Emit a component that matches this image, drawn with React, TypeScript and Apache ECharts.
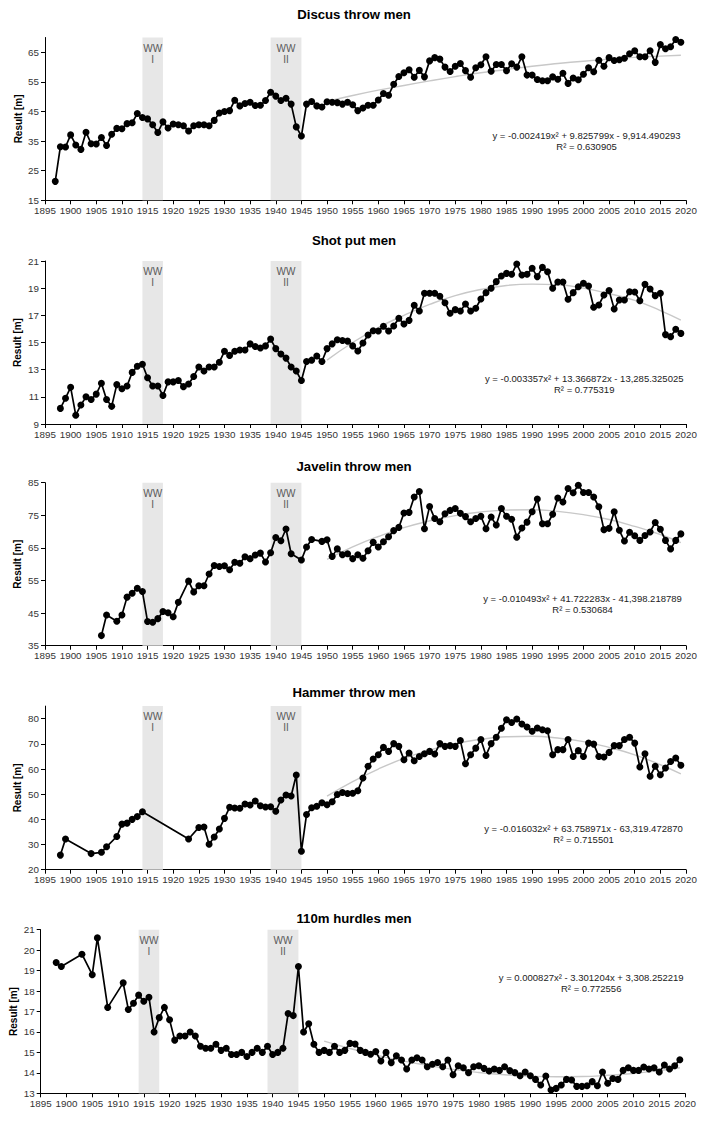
import React, { useEffect, useRef } from "react";
import * as echarts from "echarts";

// ---------- DATA ----------
const discusFirstYear = 1897;
const discusValues = [
  21.4, 33.1, 33.0, 37.1, 33.7, 32.2, 38.0, 34.1, 34.0, 36.2, 33.5, 37.3, 39.3, 39.2, 40.9, 41.2, 44.3,
  43.0, 42.5, 40.5, 37.9, 41.5, 39.4, 40.8, 40.5, 40.2, 38.4, 40.2, 40.5, 40.5, 40.2, 42.0, 44.5, 45.0,
  45.3, 48.8, 46.9, 47.7, 48.1, 47.0, 47.1, 48.7, 51.5, 50.2, 48.7, 49.5, 47.5, 39.8, 36.7, 47.5, 48.4,
  46.9, 46.5, 48.3, 48.1, 48.0, 47.5, 48.1, 47.3, 45.3, 46.2, 47.1, 47.1, 48.9, 51.1, 50.5, 54.2, 56.8,
  58.1, 59.1, 56.6, 58.9, 56.7, 62.1, 63.2, 62.7, 60.0, 58.5, 60.3, 61.2, 58.8, 56.6, 59.8, 60.8, 63.5,
  58.6, 60.9, 60.9, 58.8, 61.1, 60.0, 63.5, 57.3, 57.3, 55.8, 55.4, 55.4, 56.7, 55.9, 57.9, 54.5, 56.3,
  55.7, 57.6, 59.8, 58.4, 62.3, 60.3, 63.2, 62.2, 62.5, 63.0, 64.5, 65.5, 63.5, 63.5, 65.5, 61.6, 67.6,
  66.2, 66.9, 69.3, 68.4,
];

const shotFirstYear = 1898;
const shotValues = [
  10.15, 10.9, 11.7, 9.65, 10.4, 11.0, 10.8, 11.2, 12.0, 10.8, 10.3, 11.9, 11.6, 11.8, 12.8, 13.25, 13.4,
  12.4, 11.8, 11.8, 11.1, 12.1, 12.1, 12.2, 11.75, 11.95, 12.5, 13.2, 12.9, 13.2, 13.2, 13.55, 14.35,
  14.05, 14.35, 14.45, 14.45, 14.9, 14.7, 14.6, 14.75, 15.25, 14.55, 14.15, 13.85, 13.2, 12.9, 12.2,
  13.6, 13.7, 14.0, 13.6, 14.55, 14.9, 15.2, 15.15, 15.1, 14.75, 14.37, 14.96, 15.55, 15.87, 15.85,
  16.19, 15.85, 16.21, 16.78, 16.36, 16.63, 17.74, 17.32, 18.62, 18.62, 18.62, 18.4, 17.93, 17.15,
  17.42, 17.32, 17.83, 17.32, 17.52, 18.2, 18.67, 18.99, 19.48, 19.9, 20.09, 20.02, 20.78, 19.97, 20.02,
  20.46, 19.85, 20.53, 20.21, 18.99, 19.45, 19.45, 18.18, 18.67, 19.11, 19.36, 19.16, 17.59, 17.76,
  18.5, 18.82, 17.47, 18.13, 18.13, 18.74, 18.72, 18.08, 19.28, 18.94, 18.45, 18.62, 15.58, 15.43,
  15.97, 15.67,
];

const javelinYears = [
  1906, 1907, 1909, 1910, 1911, 1912, 1913, 1914, 1915, 1916, 1917, 1918, 1919, 1920, 1921, 1923, 1924,
  1925, 1926, 1927, 1928, 1929, 1930, 1931, 1932, 1933, 1934, 1935, 1936, 1937, 1938, 1939, 1940, 1941,
  1942, 1943, 1945, 1946, 1947, 1949, 1950, 1951, 1952, 1953, 1954, 1955, 1956, 1957, 1958, 1959, 1960,
  1961, 1962, 1963, 1964, 1965, 1966, 1967, 1968, 1969, 1970, 1971, 1972, 1973, 1974, 1975, 1976, 1977,
  1978, 1979, 1980, 1981, 1982, 1983, 1984, 1985, 1986, 1987, 1988, 1989, 1990, 1991, 1992, 1993, 1994,
  1995, 1996, 1997, 1998, 1999, 2000, 2001, 2002, 2003, 2004, 2005, 2006, 2007, 2008, 2009, 2010, 2011,
  2012, 2013, 2014, 2015, 2016, 2017, 2018, 2019,
];
const javelinValues = [
  38.1, 44.4, 42.5, 44.4, 49.9, 51.1, 52.6, 51.6, 42.4, 42.2, 43.3, 45.5, 45.1, 43.9, 48.3, 54.8, 51.5,
  53.4, 53.4, 57.0, 59.6, 59.3, 59.5, 58.3, 60.6, 60.3, 62.3, 61.7, 62.8, 63.4, 60.7, 63.5, 68.2, 67.2,
  70.8, 63.2, 61.3, 65.3, 67.6, 67.0, 67.5, 62.4, 64.7, 62.9, 63.2, 61.7, 62.9, 61.8, 64.1, 66.7, 65.3,
  66.9, 68.4, 70.3, 71.3, 75.7, 75.9, 80.6, 82.3, 70.9, 77.7, 74.0, 73.0, 75.5, 76.5, 77.1, 75.6, 74.6,
  73.0, 74.0, 74.7, 70.9, 74.5, 72.0, 77.1, 74.7, 73.8, 68.3, 71.1, 72.9, 76.1, 80.0, 72.4, 72.4, 75.3,
  80.3, 79.1, 83.2, 81.9, 84.2, 82.0, 82.0, 80.6, 77.6, 70.6, 71.0, 76.1, 70.4, 67.1, 69.8, 68.7, 67.3,
  68.8, 69.9, 72.8, 70.7, 67.3, 64.7, 67.3, 69.3,
];

const hammerYears = [
  1898, 1899, 1904, 1906, 1907, 1909, 1910, 1911, 1912, 1913, 1914, 1923, 1925, 1926, 1927, 1928, 1929,
  1930, 1931, 1932, 1933, 1934, 1935, 1936, 1937, 1938, 1939, 1940, 1941, 1942, 1943, 1944, 1945, 1946,
  1947, 1948, 1949, 1950, 1951, 1952, 1953, 1954, 1955, 1956, 1957, 1958, 1959, 1960, 1961, 1962, 1963,
  1964, 1965, 1966, 1967, 1968, 1969, 1970, 1971, 1972, 1973, 1974, 1975, 1976, 1977, 1978, 1979, 1980,
  1981, 1982, 1983, 1984, 1985, 1986, 1987, 1988, 1989, 1990, 1991, 1992, 1993, 1994, 1995, 1996, 1997,
  1998, 1999, 2000, 2001, 2002, 2003, 2004, 2005, 2006, 2007, 2008, 2009, 2010, 2011, 2012, 2013, 2014,
  2015, 2016, 2017, 2018, 2019,
];
const hammerValues = [
  25.8, 32.2, 26.4, 26.9, 29.1, 33.2, 38.1, 38.5, 40.0, 41.1, 43.0, 32.2, 36.8, 37.0, 30.1, 33.0, 36.2,
  40.4, 44.8, 44.5, 44.4, 46.1, 45.7, 47.3, 45.4, 44.9, 45.0, 43.2, 47.7, 49.7, 49.3, 57.6, 27.3, 41.9,
  44.6, 45.2, 46.6, 45.8, 47.0, 49.9, 50.7, 50.3, 50.4, 51.4, 56.4, 61.1, 64.0, 65.7, 68.6, 67.0, 70.1,
  69.0, 63.7, 66.4, 63.3, 65.0, 66.1, 67.0, 66.0, 70.1, 69.0, 69.3, 69.0, 71.3, 62.1, 65.7, 68.3, 71.7,
  65.4, 70.1, 72.6, 76.2, 79.6, 78.5, 79.9, 77.9, 76.7, 75.0, 76.3, 75.6, 75.2, 65.7, 67.7, 67.7, 71.7,
  65.0, 67.3, 65.0, 70.3, 69.9, 65.0, 64.8, 66.6, 69.3, 69.3, 71.7, 72.6, 70.3, 60.8, 66.1, 57.1, 61.1,
  57.7, 60.4, 63.0, 64.4, 61.5,
];

const hurdlesYears = [
  1898, 1899, 1903, 1905, 1906, 1908, 1911, 1912, 1913, 1914, 1915, 1916, 1917, 1918, 1919, 1920, 1921,
  1922, 1923, 1924, 1925, 1926, 1927, 1928, 1929, 1930, 1931, 1932, 1933, 1934, 1935, 1936, 1937, 1938,
  1939, 1940, 1941, 1942, 1943, 1944, 1945, 1946, 1947, 1948, 1949, 1950, 1951, 1952, 1953, 1954, 1955,
  1956, 1957, 1958, 1959, 1960, 1961, 1962, 1963, 1964, 1965, 1966, 1967, 1968, 1969, 1970, 1971, 1972,
  1973, 1974, 1975, 1976, 1977, 1978, 1979, 1980, 1981, 1982, 1983, 1984, 1985, 1986, 1987, 1988, 1989,
  1990, 1991, 1992, 1993, 1994, 1995, 1996, 1997, 1998, 1999, 2000, 2001, 2002, 2003, 2004, 2005, 2006,
  2007, 2008, 2009, 2010, 2011, 2012, 2013, 2014, 2015, 2016, 2017, 2018, 2019,
];
const hurdlesValues = [
  19.4, 19.2, 19.8, 18.8, 20.6, 17.2, 18.4, 17.1, 17.4, 17.8, 17.5, 17.7, 16.0, 16.7, 17.2, 16.6, 15.6,
  15.8, 15.8, 16.0, 15.8, 15.3, 15.2, 15.2, 15.4, 15.1, 15.2, 14.9, 14.9, 15.0, 14.8, 15.0, 15.2, 15.0,
  15.3, 14.9, 15.0, 15.2, 16.9, 16.8, 19.2, 16.0, 16.4, 15.4, 15.0, 15.1, 15.0, 15.3, 15.0, 15.1, 15.44,
  15.41, 15.1, 15.0, 14.91, 15.04, 14.58, 15.0, 14.5, 14.84, 14.63, 14.19, 14.63, 14.74, 14.63, 14.3,
  14.42, 14.51, 14.3, 14.63, 13.91, 14.35, 14.25, 14.01, 14.3, 14.35, 14.22, 14.09, 14.19, 14.12, 14.3,
  14.11, 14.01, 13.86, 14.04, 13.86, 13.68, 13.41, 13.85, 13.16, 13.24, 13.41, 13.68, 13.65, 13.34,
  13.34, 13.37, 13.57, 13.37, 14.04, 13.49, 13.72, 13.68, 14.12, 14.25, 14.12, 14.12, 14.29, 14.19,
  14.25, 14.04, 14.38, 14.19, 14.35, 14.64,
];

// Polynomial trend lines
const trendYears = [1950, 1955, 1960, 1965, 1970, 1975, 1980, 1985, 1990, 1995, 2000, 2005, 2010, 2015, 2019];
const discusTrend = [48.4, 50.4, 52.2, 53.8, 55.35, 56.8, 58.1, 59.2, 60.3, 61.2, 62.0, 62.7, 63.3, 63.7, 64.0];
const shotTrend = [13.7, 15.0, 16.1, 17.0, 17.8, 18.45, 18.9, 19.2, 19.3, 19.25, 19.0, 18.6, 18.1, 17.35, 16.65];
const javelinTrend = [61.5, 65.3, 68.5, 71.2, 73.3, 74.9, 76.0, 76.6, 76.7, 76.2, 75.2, 73.7, 71.6, 69.1, 66.6];
const hammerTrend = [49.2, 55.0, 60.0, 64.2, 67.5, 70.1, 71.8, 72.8, 73.0, 72.3, 70.9, 68.6, 65.6, 61.7, 58.1];
const hurdlesTrend = [15.55, 15.19, 14.88, 14.6, 14.37, 14.17, 14.02, 13.91, 13.84, 13.81, 13.82, 13.88, 13.97, 14.11, 14.25];

const titles = ["Discus throw men", "Shot put men", "Javelin throw men", "Hammer throw men", "110m hurdles men"];
const equations = [
  ["y = -0.002419x\u00B2 + 9.825799x - 9,914.490293", "R\u00B2 = 0.630905"],
  ["y = -0.003357x\u00B2 + 13.366872x - 13,285.325025", "R\u00B2 = 0.775319"],
  ["y = -0.010493x\u00B2 + 41.722283x - 41,398.218789", "R\u00B2 = 0.530684"],
  ["y = -0.016032x\u00B2 + 63.758971x - 63,319.472870", "R\u00B2 = 0.715501"],
  ["y = 0.000827x\u00B2 - 3.301204x + 3,308.252219", "R\u00B2 = 0.772556"],
];
const yMins = [15, 9, 35, 20, 13];
const yMaxs = [70, 21, 85, 85, 21];
const yIntervals = [10, 2, 10, 10, 1];
const yTickLabels = [
  [15, 25, 35, 45, 55, 65],
  [9, 11, 13, 15, 17, 19, 21],
  [35, 45, 55, 65, 75, 85],
  [20, 30, 40, 50, 60, 70, 80],
  [13, 14, 15, 16, 17, 18, 19, 20, 21],
];
const warBands = [
  { label: "WW\nI", from: 1914, to: 1918 },
  { label: "WW\nII", from: 1939, to: 1945 },
];

// ---------- LAYOUT ----------
const FONT = "'Liberation Sans', Arial, Helvetica, sans-serif";
const grids = [
  { left: 45, top: 37.5, width: 641, height: 162.8 },
  { left: 45, top: 261, width: 641, height: 163 },
  { left: 45, top: 482.7, width: 641, height: 163 },
  { left: 45, top: 706.1, width: 641, height: 163.6 },
  { left: 40.7, top: 929.7, width: 644.3, height: 163.6 },
];
const titleY = [14.5, 240, 466, 692, 918];
const eqPos = [
  { x: 586.5, y: 135.7 },
  { x: 584.2, y: 378.3 },
  { x: 582.5, y: 598.7 },
  { x: 583.5, y: 828 },
  { x: 591.2, y: 977.3 },
];
const nameX = [18.3, 17.3, 17.3, 17.3, 13.3];

export default function App() {
  const ref = useRef<HTMLDivElement>(null);

  useEffect(() => {
    if (!ref.current) return;
    const chart = echarts.init(ref.current, undefined, { renderer: "svg" });

    const panels = [
      { data: discusValues.map((v, i) => [discusFirstYear + i, v]), trend: discusTrend },
      { data: shotValues.map((v, i) => [shotFirstYear + i, v]), trend: shotTrend },
      { data: javelinYears.map((y, i) => [y, javelinValues[i]]), trend: javelinTrend },
      { data: hammerYears.map((y, i) => [y, hammerValues[i]]), trend: hammerTrend },
      { data: hurdlesYears.map((y, i) => [y, hurdlesValues[i]]), trend: hurdlesTrend },
    ];

    const xAxis: any[] = [];
    const yAxis: any[] = [];
    const series: any[] = [];
    const graphic: any[] = [];

    panels.forEach((p, i) => {
      xAxis.push({
        type: "value",
        gridIndex: i,
        min: 1895,
        max: 2020,
        interval: 5,
        axisLine: { show: true, onZero: false, lineStyle: { color: "#000", width: 1 } },
        axisTick: { show: true, length: 4, lineStyle: { color: "#000" } },
        axisLabel: {
          show: true,
          color: "#333",
          fontSize: 9.8,
          fontFamily: FONT,
          margin: 5,
          formatter: (v: number) => String(v),
        },
        splitLine: { show: false },
      });
      yAxis.push({
        type: "value",
        gridIndex: i,
        min: yMins[i],
        max: yMaxs[i],
        interval: yIntervals[i],
        axisLine: { show: true, onZero: false, lineStyle: { color: "#000", width: 1 } },
        axisTick: { show: true, length: 4, lineStyle: { color: "#000" }, customValues: yTickLabels[i] },
        axisLabel: {
          show: true,
          color: "#333",
          fontSize: 9.8,
          fontFamily: FONT,
          margin: 6,
          customValues: yTickLabels[i],
          formatter: (v: number) => String(v),
        },
        splitLine: { show: false },
      });
      series.push({
        type: "line",
        xAxisIndex: i,
        yAxisIndex: i,
        data: trendYears.map((y, k) => [y, p.trend[k]]),
        smooth: true,
        symbol: "none",
        silent: true,
        z: 2,
        lineStyle: { color: "#c8c8c8", width: 1.4 },
        markArea: {
          silent: true,
          itemStyle: { color: "#e7e7e7" },
          label: { show: false },
          data: warBands.map((b) => [{ xAxis: b.from }, { xAxis: b.to }]),
        },
      });
      series.push({
        type: "line",
        xAxisIndex: i,
        yAxisIndex: i,
        data: p.data,
        symbol: "circle",
        symbolSize: 7,
        z: 3,
        itemStyle: { color: "#000" },
        lineStyle: { color: "#000", width: 1.7 },
      });

      const g = grids[i];
      graphic.push({
        type: "text",
        x: 354,
        y: titleY[i],
        style: {
          text: titles[i],
          fill: "#000",
          font: `bold 13.2px ${FONT}`,
          textAlign: "center",
          textVerticalAlign: "middle",
        },
      });
      graphic.push({
        type: "text",
        x: nameX[i],
        y: g.top + g.height / 2,
        rotation: Math.PI / 2,
        style: {
          text: "Result [m]",
          fill: "#000",
          font: `bold 10px ${FONT}`,
          textAlign: "center",
          textVerticalAlign: "middle",
        },
      });
      graphic.push({
        type: "text",
        x: eqPos[i].x,
        y: eqPos[i].y,
        style: {
          text: equations[i][0],
          fill: "#222",
          font: `9.5px ${FONT}`,
          textAlign: "center",
          textVerticalAlign: "middle",
        },
      });
      graphic.push({
        type: "text",
        x: eqPos[i].x,
        y: eqPos[i].y + 11,
        style: {
          text: equations[i][1],
          fill: "#222",
          font: `9.5px ${FONT}`,
          textAlign: "center",
          textVerticalAlign: "middle",
        },
      });
    });

    chart.setOption({
      animation: false,
      backgroundColor: "#fff",
      grid: grids.map((g) => ({ ...g, containLabel: false })),
      xAxis,
      yAxis,
      series,
    });

    // War-band labels placed through the x axis scale of each panel
    panels.forEach((_, i) => {
      warBands.forEach((b) => {
        const cx = chart.convertToPixel({ xAxisIndex: i } as any, (b.from + b.to) / 2) as number;
        graphic.push({
          type: "text",
          x: cx,
          y: grids[i].top + 5,
          z: 10,
          style: {
            text: b.label,
            fill: "#595959",
            font: `10px ${FONT}`,
            lineHeight: 11,
            textAlign: "center",
            textVerticalAlign: "top",
          },
        });
      });
    });

    chart.setOption({ graphic });

    return () => chart.dispose();
  }, []);

  return (
    <div
      ref={ref}
      style={{ position: "absolute", left: 0, top: 0, width: 708, height: 1143, background: "#fff" }}
    />
  );
}
